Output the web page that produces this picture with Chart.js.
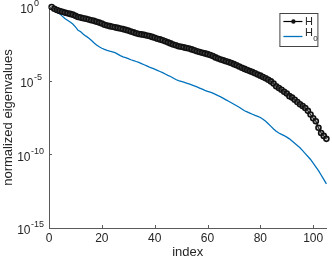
<!DOCTYPE html>
<html><head><meta charset="utf-8">
<script src="https://cdn.jsdelivr.net/npm/chart.js@4/dist/chart.umd.min.js"></script>
<style>html,body{margin:0;padding:0;background:#fff;}canvas{display:block;}</style>
</head><body>
<canvas id="c" width="332" height="261"></canvas>
<script>
const indices = [1,2,3,4,5,6,7,8,9,10,11,12,13,14,15,16,17,18,19,20,21,22,23,24,25,26,27,28,29,30,31,32,33,34,35,36,37,38,39,40,41,42,43,44,45,46,47,48,49,50,51,52,53,54,55,56,57,58,59,60,61,62,63,64,65,66,67,68,69,70,71,72,73,74,75,76,77,78,79,80,81,82,83,84,85,86,87,88,89,90,91,92,93,94,95,96,97,98,99,100,101,102,103,104,105];
const hValues = [
1, 7.59e-1, 6.31e-1, 5.37e-1, 4.79e-1, 4.17e-1, 3.80e-1, 3.39e-1, 3.02e-1, 2.51e-1,
2.09e-1, 1.91e-1, 1.74e-1, 1.58e-1, 1.41e-1, 1.26e-1, 1.15e-1, 1.00e-1, 8.71e-2, 7.59e-2,
6.31e-2, 5.50e-2, 5.01e-2, 4.57e-2, 4.17e-2, 3.80e-2, 3.47e-2, 3.16e-2, 2.82e-2, 2.51e-2,
2.19e-2, 1.91e-2, 1.66e-2, 1.48e-2, 1.38e-2, 1.29e-2, 1.17e-2, 1.07e-2, 9.33e-3, 8.13e-3,
7.08e-3, 6.31e-3, 5.50e-3, 4.79e-3, 3.98e-3, 3.39e-3, 2.88e-3, 2.51e-3, 2.19e-3, 2.00e-3,
1.82e-3, 1.66e-3, 1.51e-3, 1.32e-3, 1.15e-3, 1.00e-3, 8.91e-4, 7.94e-4, 7.08e-4, 6.31e-4,
5.50e-4, 4.68e-4, 3.80e-4, 3.16e-4, 2.75e-4, 2.40e-4, 2.09e-4, 1.82e-4, 1.58e-4, 1.32e-4,
1.10e-4, 9.12e-5, 7.59e-5, 6.31e-5, 5.25e-5, 4.47e-5, 3.80e-5, 3.16e-5, 2.63e-5, 2.19e-5,
1.78e-5, 1.45e-5, 1.15e-5, 8.91e-6, 6.31e-6, 4.17e-6, 3.16e-6, 2.40e-6, 1.78e-6, 1.32e-6,
8.91e-7, 7.08e-7, 5.01e-7, 3.55e-7, 2.51e-7, 1.91e-7, 1.41e-7, 8.91e-8, 5.01e-8, 2.82e-8,
1.78e-8, 6.31e-9, 2.82e-9, 1.78e-9, 1.12e-9];
const h0Values = [
1, 7.59e-1, 5.01e-1, 3.55e-1, 2.40e-1, 1.66e-1, 1.26e-1, 9.55e-2, 7.08e-2, 4.47e-2,
2.63e-2, 2.09e-2, 1.41e-2, 1.05e-2, 7.94e-3, 5.62e-3, 3.80e-3, 2.63e-3, 2.00e-3, 1.58e-3,
1.32e-3, 1.12e-3, 1.00e-3, 9.12e-4, 7.94e-4, 6.31e-4, 5.01e-4, 4.17e-4, 3.63e-4, 3.16e-4,
2.63e-4, 2.29e-4, 2.00e-4, 1.74e-4, 1.45e-4, 1.20e-4, 1.00e-4, 8.32e-5, 7.08e-5, 6.03e-5,
5.01e-5, 4.17e-5, 3.47e-5, 2.82e-5, 2.29e-5, 1.91e-5, 1.51e-5, 1.20e-5, 1.00e-5, 8.91e-6,
7.94e-6, 6.92e-6, 6.03e-6, 5.25e-6, 4.47e-6, 3.80e-6, 3.16e-6, 2.63e-6, 2.19e-6, 1.91e-6,
1.66e-6, 1.41e-6, 1.17e-6, 9.55e-7, 7.94e-7, 6.31e-7, 5.01e-7, 3.98e-7, 3.16e-7, 2.51e-7,
2.00e-7, 1.58e-7, 1.20e-7, 9.12e-8, 7.59e-8, 6.31e-8, 5.25e-8, 4.37e-8, 3.80e-8, 3.16e-8,
2.40e-8, 1.78e-8, 1.20e-8, 7.94e-9, 5.25e-9, 3.63e-9, 2.82e-9, 2.29e-9, 1.86e-9, 1.48e-9,
1.12e-9, 7.94e-10, 5.62e-10, 3.98e-10, 2.82e-10, 1.78e-10, 1.12e-10, 7.08e-11, 4.47e-11, 2.51e-11,
1.41e-11, 7.94e-12, 3.98e-12, 2.00e-12, 1.00e-12];
const xTicks = [0, 20, 40, 60, 80, 100];
const yTicks = [1, 1e-5, 1e-10, 1e-15];
const yTickExponents = ['0', '-5', '-10', '-15'];
const seriesNames = ['H', 'H'];
const seriesSubscripts = ['', '0'];
const xTitle = 'index';
const yTitle = 'normalized eigenvalues';

const FONT = '"Liberation Sans", Arial, Helvetica, sans-serif';
const TXT = '#262626';
const AX = '#5a5a5a';

const decor = {
  id: 'decor',
  afterDraw(chart) {
    const ctx = chart.ctx, xs = chart.scales.x, ys = chart.scales.y, a = chart.chartArea;
    ctx.save();
    ctx.strokeStyle = AX; ctx.lineWidth = 1;
    ctx.beginPath();
    xs.ticks.forEach(t => {
      const px = Math.round(xs.getPixelForValue(t.value)) + 0.5;
      ctx.moveTo(px, a.bottom); ctx.lineTo(px, a.bottom - 3);
    });
    ys.ticks.forEach(t => {
      const py = Math.round(ys.getPixelForValue(t.value)) + 0.5;
      ctx.moveTo(a.left, py); ctx.lineTo(a.left + 3, py);
    });
    ctx.stroke();
    ctx.fillStyle = TXT; ctx.textBaseline = 'middle';
    ys.ticks.forEach(t => {
      const py = ys.getPixelForValue(t.value);
      const exp = yTickExponents[yTicks.indexOf(t.value)];
      ctx.font = '9px ' + FONT;
      const ew = ctx.measureText(exp).width;
      const baseRight = Math.min(a.left - 15.5, a.left - 5 - ew - 0.5);
      ctx.font = '12px ' + FONT;
      ctx.textAlign = 'right';
      ctx.fillText('10', baseRight, py + 3);
      ctx.font = '9px ' + FONT;
      ctx.textAlign = 'left';
      ctx.fillText(exp, baseRight + 0.5, py - 3);
    });
    const bx = a.right - 46.5, by = a.top + 6.5, bw = 38, bh = 33;
    ctx.fillStyle = '#fff'; ctx.fillRect(bx, by, bw, bh);
    ctx.strokeStyle = '#444'; ctx.lineWidth = 1; ctx.strokeRect(bx, by, bw, bh);
    const rows = [by + 8, by + 23];
    chart.data.datasets.forEach((ds, i) => {
      const y = rows[i];
      ctx.strokeStyle = ds.borderColor; ctx.lineWidth = ds.borderWidth;
      ctx.beginPath(); ctx.moveTo(bx + 3.5, y); ctx.lineTo(bx + 22.5, y); ctx.stroke();
      if (ds.pointRadius > 0) {
        ctx.fillStyle = ds.pointBorderColor;
        ctx.beginPath(); ctx.arc(bx + 13.5, y, 2.2, 0, Math.PI * 2);
        ctx.fill();
      }
      ctx.fillStyle = TXT; ctx.textAlign = 'left'; ctx.textBaseline = 'middle';
      ctx.font = '11px ' + FONT;
      const ty = seriesSubscripts[i] ? y - 3.5 : y;
      ctx.fillText(seriesNames[i], bx + 25, ty);
      if (seriesSubscripts[i]) {
        const w = ctx.measureText(seriesNames[i]).width;
        ctx.font = '8px ' + FONT;
        ctx.fillText(seriesSubscripts[i], bx + 25 + w + 0.5, ty + 6);
      }
    });
    ctx.restore();
  }
};

new Chart(document.getElementById('c'), {
  type: 'line',
  data: {
    datasets: [
      {
        label: 'H',
        data: indices.map((x, i) => ({x: x, y: hValues[i]})),
        borderColor: '#000', borderWidth: 1.2,
        pointRadius: 2.5, pointBorderWidth: 1.6,
        pointBorderColor: '#111', pointBackgroundColor: 'rgba(120,120,120,0.35)',
        pointStyle: 'circle', clip: false, order: 1
      },
      {
        label: 'H0',
        data: indices.map((x, i) => ({x: x, y: h0Values[i]})),
        borderColor: '#0072BD', borderWidth: 1.3,
        pointRadius: 0, pointBorderWidth: 0,
        pointBorderColor: '#0072BD', pointBackgroundColor: '#0072BD',
        clip: false, order: 2
      }
    ]
  },
  options: {
    responsive: false,
    animation: false,
    devicePixelRatio: 1,
    layout: {padding: {top: 7, right: 2, left: 0, bottom: 0}},
    plugins: {legend: {display: false}, tooltip: {enabled: false}},
    scales: {
      x: {
        type: 'linear', min: 0, max: 105,
        afterBuildTicks: s => { s.ticks = xTicks.map(v => ({value: v})); },
        afterFit: s => { s.height = 33; },
        grid: {display: true, drawOnChartArea: false, drawTicks: false},
        border: {display: true, color: AX, width: 1},
        ticks: {color: TXT, font: {family: FONT, size: 12}, padding: 3, maxRotation: 0, autoSkip: false},
        title: {display: true, text: xTitle, color: TXT, font: {family: FONT, size: 13}, padding: {top: 0, bottom: 1}}
      },
      y: {
        type: 'logarithmic', min: 1e-15, max: 1,
        afterBuildTicks: s => { s.ticks = yTicks.map(v => ({value: v})); },
        afterFit: s => { s.width = 49; },
        grid: {display: true, drawOnChartArea: false, drawTicks: false},
        border: {display: true, color: AX, width: 1},
        ticks: {display: false},
        title: {display: true, text: yTitle, color: TXT, font: {family: FONT, size: 13}, padding: {top: 1, bottom: 0}}
      }
    }
  },
  plugins: [decor]
});
</script>
</body></html>
